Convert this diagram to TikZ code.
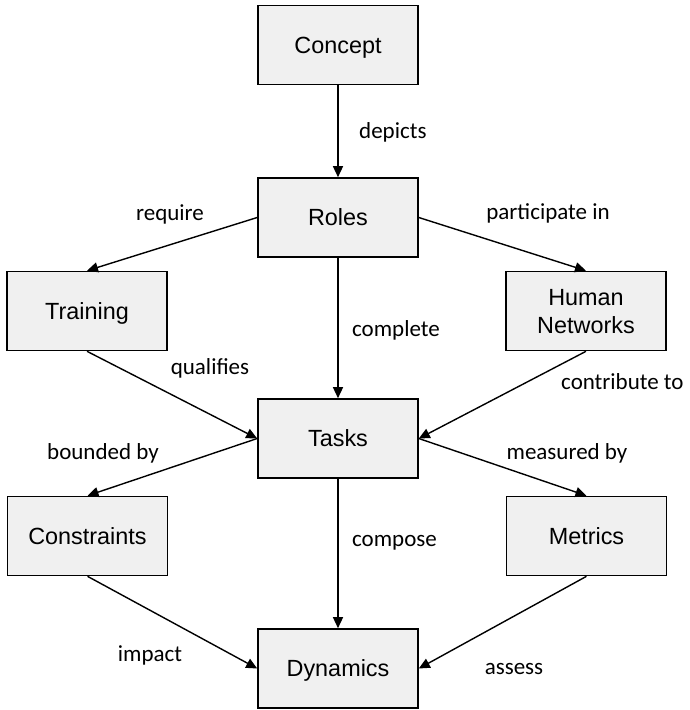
\documentclass[tikz,border=0pt]{standalone}
\usepackage{fontspec}
\setmainfont{Liberation Sans}
\newfontfamily\labelfont{Carlito}
\usetikzlibrary{arrows.meta}
\begin{document}
\begin{tikzpicture}[x=1pt,y=-1pt,
  conceptbox/.style={draw=black, line width=1.6pt, fill=boxgray,
    minimum width=160pt, minimum height=79pt, inner sep=0pt, align=center,
    text height=16.75pt, text depth=0pt,
    font=\fontsize{23.4}{27.5}\selectfont},
  twolines/.style={text height=44.25pt, text depth=0pt},
  link/.style={draw=black, line width=1.4pt,
    -{Triangle[length=11pt,width=10pt]}},
  linklabel/.style={inner sep=0pt, font=\labelfont\fontsize{23}{27}\selectfont}
]
\definecolor{boxgray}{HTML}{F0F0F0}
\useasboundingbox (0,0) rectangle (689,710);

% concept map boxes
\node[conceptbox] (concept)     at (338,45)    {Concept};
\node[conceptbox] (roles)       at (338,217.5) {Roles};
\node[conceptbox] (training)    at (87,311)    {Training};
\node[conceptbox, twolines] (networks) at (586,311) {Human\\Networks};
\node[conceptbox] (tasks)       at (338,438.5) {Tasks};
\node[conceptbox] (constraints) at (87.5,536)  {Constraints};
\node[conceptbox] (metrics)     at (586.5,536) {Metrics};
\node[conceptbox] (dynamics)    at (338,668.5) {Dynamics};

% relations
\draw[link] (concept.south)     -- (roles.north);
\draw[link] (roles.west)        -- (training.north);
\draw[link] (roles.east)        -- (networks.north);
\draw[link] (roles.south)       -- (tasks.north);
\draw[link] (training.south)    -- (tasks.west);
\draw[link] (networks.south)    -- (tasks.east);
\draw[link] (tasks.west)        -- (constraints.north);
\draw[link] (tasks.east)        -- (metrics.north);
\draw[link] (tasks.south)       -- (dynamics.north);
\draw[link] (constraints.south) -- (dynamics.west);
\draw[link] (metrics.south)     -- (dynamics.east);

% relation labels
\node[linklabel, anchor=mid west] (ldepicts)    at (359,136) {depicts};
\node[linklabel, anchor=mid]      (lrequire)    at (170,218) {require};
\node[linklabel, anchor=mid]      (lpart)       at (548,217) {participate in};
\node[linklabel, anchor=mid west] (lcomplete)   at (352,334) {complete};
\node[linklabel, anchor=mid]      (lqualifies)  at (210,372) {qualifies};
\node[linklabel, anchor=mid west] (lcontrib)    at (561,387) {contribute to};
\node[linklabel, anchor=mid]      (lbounded)    at (103,457) {bounded by};
\node[linklabel, anchor=mid]      (lmeasured)   at (567,457) {measured by};
\node[linklabel, anchor=mid west] (lcompose)    at (352,544) {compose};
\node[linklabel, anchor=mid]      (limpact)     at (150,659) {impact};
\node[linklabel, anchor=mid]      (lassess)     at (514,672) {assess};
\end{tikzpicture}
\end{document}
